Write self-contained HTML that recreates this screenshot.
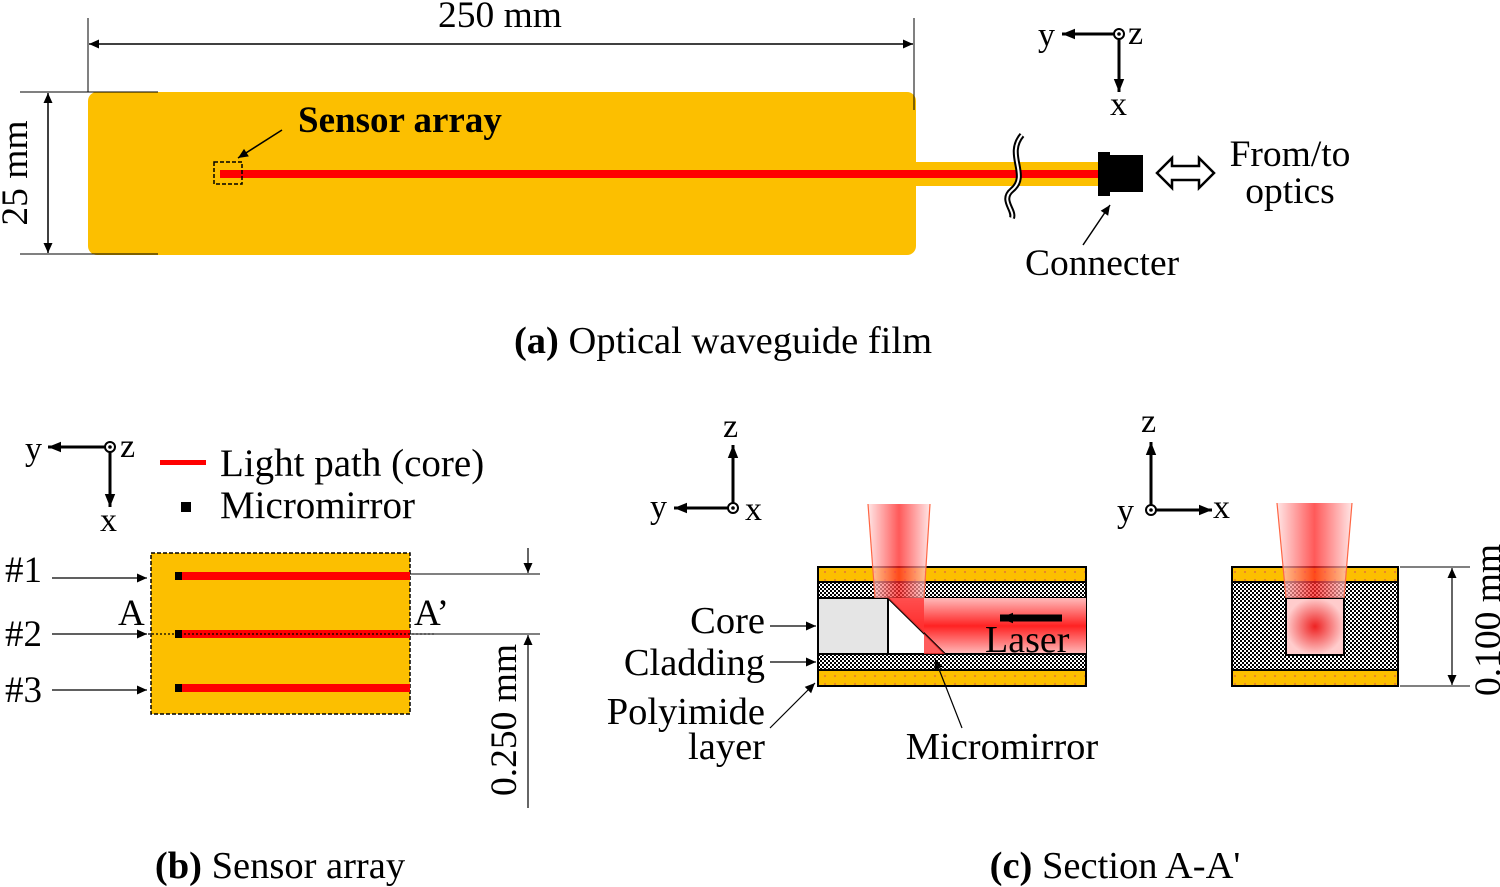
<!DOCTYPE html>
<html><head><meta charset="utf-8"><style>
html,body{margin:0;padding:0;background:#fff;}
svg{display:block;font-family:"Liberation Serif",serif;}
</style></head><body>
<svg width="1500" height="887" viewBox="0 0 1500 887" xmlns="http://www.w3.org/2000/svg">
<defs>
<marker id="ar" viewBox="0 0 10 10" refX="10" refY="5" markerWidth="12" markerHeight="10" orient="auto-start-reverse" markerUnits="userSpaceOnUse"><path d="M0,0.5 L10,5 L0,9.5 z" fill="#000"/></marker>
<marker id="ar2" viewBox="0 0 10 10" refX="10" refY="5" markerWidth="14" markerHeight="13" orient="auto-start-reverse" markerUnits="userSpaceOnUse"><path d="M0,1 L10,5 L0,9 z" fill="#000"/></marker>
<pattern id="chk" width="4" height="4" patternUnits="userSpaceOnUse"><rect width="4" height="4" fill="#fff"/><rect width="2" height="2" fill="#000"/><rect x="2" y="2" width="2" height="2" fill="#000"/></pattern>
<pattern id="dots" width="10" height="8" patternUnits="userSpaceOnUse"><rect width="10" height="8" fill="#fcbf00"/><rect x="4" y="3" width="2" height="2" fill="#e8862a"/></pattern>
<linearGradient id="beam" x1="0" x2="1" y1="0" y2="0"><stop offset="0" stop-color="#fdd"/><stop offset="0.5" stop-color="#f22"/><stop offset="1" stop-color="#fdd"/></linearGradient>
<linearGradient id="beamh" x1="0" x2="0" y1="0" y2="1"><stop offset="0" stop-color="#fbb"/><stop offset="0.5" stop-color="#f22"/><stop offset="1" stop-color="#fbb"/></linearGradient>
<radialGradient id="spot"><stop offset="0" stop-color="#e22"/><stop offset="1" stop-color="#fcc"/></radialGradient>
</defs>

<!-- Panel a -->
<rect x="88" y="92" width="828" height="163" rx="9" fill="#fcbf00"/>
<rect x="914" y="162" width="184" height="24" fill="#fcbf00"/>
<rect x="220" y="170" width="878" height="8" fill="#f00"/>
<path d="M1022,135 C1005,155 1030,175 1012,190 C1000,200 1015,210 1012,218" fill="none" stroke="#000" stroke-width="6"/>
<path d="M1022,135 C1005,155 1030,175 1012,190 C1000,200 1015,210 1012,218" fill="none" stroke="#fff" stroke-width="2"/>
<rect x="1098" y="152" width="12" height="44" fill="#000"/>
<rect x="1108" y="155" width="35" height="37" fill="#000"/>
<path d="M1157,173 L1172,158 L1172,166 L1199,166 L1199,158 L1214,173 L1199,188 L1199,180 L1172,180 L1172,188 z" fill="#fff" stroke="#000" stroke-width="2.5"/>
<rect x="214" y="162" width="28" height="22" fill="none" stroke="#000" stroke-width="1.5" stroke-dasharray="4,2"/>
<line x1="282" y1="130" x2="238" y2="158" stroke="#000" stroke-width="1.5" marker-end="url(#ar)"/>
<text x="298" y="132" font-size="37" font-weight="bold">Sensor array</text>
<line x1="1083" y1="245" x2="1110" y2="205" stroke="#000" stroke-width="1.5" marker-end="url(#ar)"/>
<text x="1025" y="275" font-size="37.5">Connecter</text>
<text x="1290" y="166" font-size="37.5" text-anchor="middle">From/to</text>
<text x="1290" y="203" font-size="37.5" text-anchor="middle">optics</text>
<!-- dims a -->
<line x1="88" y1="18" x2="88" y2="92" stroke="#000" stroke-width="1"/>
<line x1="914" y1="18" x2="914" y2="110" stroke="#000" stroke-width="1"/>
<line x1="89" y1="44" x2="913" y2="44" stroke="#000" stroke-width="1.5" marker-start="url(#ar)" marker-end="url(#ar)"/>
<text x="500" y="27" font-size="37.5" text-anchor="middle">250 mm</text>
<line x1="20" y1="92" x2="158" y2="92" stroke="#000" stroke-width="1"/>
<line x1="20" y1="254" x2="158" y2="254" stroke="#000" stroke-width="1"/>
<line x1="48" y1="93" x2="48" y2="253" stroke="#000" stroke-width="1.5" marker-start="url(#ar)" marker-end="url(#ar)"/>
<text transform="translate(27,173) rotate(-90)" font-size="37.5" text-anchor="middle">25 mm</text>
<!-- axes a -->
<line x1="1119" y1="34" x2="1062" y2="34" stroke="#000" stroke-width="3" marker-end="url(#ar2)"/>
<line x1="1119" y1="34" x2="1119" y2="92" stroke="#000" stroke-width="3" marker-end="url(#ar2)"/>
<circle cx="1119" cy="34" r="5" fill="#fff" stroke="#000" stroke-width="2"/><circle cx="1119" cy="34" r="1.8" fill="#000"/>
<text x="1038" y="46" font-size="34">y</text><text x="1128" y="44" font-size="34">z</text><text x="1110" y="115" font-size="34">x</text>
<text x="723" y="353" font-size="38.5" text-anchor="middle"><tspan font-weight="bold">(a)</tspan> Optical waveguide film</text>

<!-- Panel b -->
<line x1="110" y1="447" x2="48" y2="447" stroke="#000" stroke-width="3" marker-end="url(#ar2)"/>
<line x1="110" y1="447" x2="110" y2="507" stroke="#000" stroke-width="3" marker-end="url(#ar2)"/>
<circle cx="110" cy="447" r="5" fill="#fff" stroke="#000" stroke-width="2"/><circle cx="110" cy="447" r="1.8" fill="#000"/>
<text x="25" y="460" font-size="34">y</text><text x="120" y="457" font-size="34">z</text><text x="100" y="531" font-size="34">x</text>
<rect x="160" y="460" width="46" height="5" fill="#f00"/>
<rect x="181" y="502" width="10" height="10" fill="#000"/>
<text x="220" y="476" font-size="39">Light path (core)</text>
<text x="220" y="518" font-size="39">Micromirror</text>
<rect x="151" y="553" width="259" height="161" fill="#fcbf00" stroke="#000" stroke-width="1.5" stroke-dasharray="4,2"/>
<rect x="175" y="572" width="235" height="8" fill="#f00"/><rect x="175" y="572" width="7" height="8" fill="#000"/>
<rect x="175" y="630" width="235" height="8" fill="#f00"/><rect x="175" y="630" width="7" height="8" fill="#000"/>
<rect x="175" y="684" width="235" height="8" fill="#f00"/><rect x="175" y="684" width="7" height="8" fill="#000"/>
<line x1="140" y1="634" x2="435" y2="634" stroke="#000" stroke-width="1.2" stroke-dasharray="2,2"/>
<line x1="52" y1="578" x2="147" y2="578" stroke="#000" stroke-width="1.2" marker-end="url(#ar)"/>
<line x1="52" y1="634" x2="147" y2="634" stroke="#000" stroke-width="1.2" marker-end="url(#ar)"/>
<line x1="52" y1="690" x2="147" y2="690" stroke="#000" stroke-width="1.2" marker-end="url(#ar)"/>
<text x="5" y="582" font-size="37">#1</text><text x="5" y="646" font-size="37">#2</text><text x="5" y="702" font-size="37">#3</text>
<text x="118" y="625" font-size="37">A</text><text x="414" y="625" font-size="37">A’</text>
<line x1="410" y1="574" x2="540" y2="574" stroke="#000" stroke-width="1"/>
<line x1="410" y1="634" x2="540" y2="634" stroke="#000" stroke-width="1"/>
<line x1="528" y1="548" x2="528" y2="573" stroke="#000" stroke-width="1.2" marker-end="url(#ar)"/>
<line x1="528" y1="808" x2="528" y2="635" stroke="#000" stroke-width="1.2" marker-end="url(#ar)"/>
<text transform="translate(516,720) rotate(-90)" font-size="37.5" text-anchor="middle">0.250 mm</text>
<text x="280" y="878" font-size="38.5" text-anchor="middle"><tspan font-weight="bold">(b)</tspan> Sensor array</text>

<!-- Panel c axes -->
<line x1="733" y1="508" x2="733" y2="445" stroke="#000" stroke-width="3" marker-end="url(#ar2)"/>
<line x1="733" y1="508" x2="674" y2="508" stroke="#000" stroke-width="3" marker-end="url(#ar2)"/>
<circle cx="733" cy="508" r="5" fill="#fff" stroke="#000" stroke-width="2"/><circle cx="733" cy="508" r="1.8" fill="#000"/>
<text x="723" y="437" font-size="34">z</text><text x="650" y="518" font-size="34">y</text><text x="745" y="520" font-size="34">x</text>
<line x1="1151" y1="510" x2="1151" y2="442" stroke="#000" stroke-width="3" marker-end="url(#ar2)"/>
<line x1="1151" y1="510" x2="1212" y2="510" stroke="#000" stroke-width="3" marker-end="url(#ar2)"/>
<circle cx="1151" cy="510" r="5" fill="#fff" stroke="#000" stroke-width="2"/><circle cx="1151" cy="510" r="1.8" fill="#000"/>
<text x="1141" y="432" font-size="34">z</text><text x="1117" y="522" font-size="34">y</text><text x="1213" y="518" font-size="34">x</text>

<!-- Panel c left cross-section -->
<rect x="818" y="567" width="268" height="15" fill="url(#dots)" stroke="#000" stroke-width="2"/>
<rect x="818" y="582" width="268" height="16" fill="url(#chk)" stroke="#000" stroke-width="2"/>
<rect x="818" y="598" width="268" height="56" fill="#e5e5e5" stroke="#000" stroke-width="2"/>
<rect x="888" y="598" width="198" height="56" fill="url(#beamh)"/>
<path d="M888,598 L945,654 L888,654 z" fill="#fff" stroke="#000" stroke-width="2"/>
<line x1="888" y1="598" x2="888" y2="654" stroke="#000" stroke-width="2"/>
<rect x="818" y="654" width="268" height="16" fill="url(#chk)" stroke="#000" stroke-width="2"/>
<rect x="818" y="670" width="268" height="16" fill="url(#dots)" stroke="#000" stroke-width="2"/>
<path d="M888,598 L924,598 L924,654 L945,654 z" fill="#f33" opacity="0.8"/>
<path d="M868,504 L930,504 L924,598 L875,598 z" fill="url(#beam)" opacity="0.75"/>
<line x1="868" y1="504" x2="875" y2="598" stroke="#f64" stroke-width="1.2"/>
<line x1="930" y1="504" x2="924" y2="598" stroke="#f64" stroke-width="1.2"/>
<line x1="1062" y1="618" x2="1000" y2="618" stroke="#000" stroke-width="7" marker-end="url(#ar2)"/>
<text x="985" y="652" font-size="38">Laser</text>
<line x1="770" y1="626" x2="816" y2="626" stroke="#000" stroke-width="1.2" marker-end="url(#ar)"/>
<line x1="770" y1="662" x2="816" y2="662" stroke="#000" stroke-width="1.2" marker-end="url(#ar)"/>
<line x1="770" y1="728" x2="815" y2="683" stroke="#000" stroke-width="1.2" marker-end="url(#ar)"/>
<line x1="962" y1="728" x2="935" y2="659" stroke="#000" stroke-width="1.2" marker-end="url(#ar)"/>
<text x="765" y="633" font-size="38.5" text-anchor="end">Core</text>
<text x="765" y="675" font-size="38.5" text-anchor="end">Cladding</text>
<text x="765" y="724" font-size="38.5" text-anchor="end">Polyimide</text>
<text x="765" y="759" font-size="38.5" text-anchor="end">layer</text>
<text x="1002" y="759" font-size="38.5" text-anchor="middle">Micromirror</text>

<!-- Panel c right cross-section -->
<rect x="1232" y="567" width="166" height="15" fill="url(#dots)" stroke="#000" stroke-width="2"/>
<rect x="1232" y="582" width="166" height="88" fill="url(#chk)" stroke="#000" stroke-width="2"/>
<rect x="1286" y="598" width="58" height="57" fill="url(#spot)" stroke="#000" stroke-width="2"/>
<rect x="1232" y="670" width="166" height="16" fill="url(#dots)" stroke="#000" stroke-width="2"/>
<path d="M1277,503 L1352,503 L1344,598 L1286,598 z" fill="url(#beam)" opacity="0.75"/>
<line x1="1277" y1="503" x2="1286" y2="598" stroke="#f64" stroke-width="1.2"/>
<line x1="1352" y1="503" x2="1344" y2="598" stroke="#f64" stroke-width="1.2"/>
<line x1="1400" y1="567" x2="1470" y2="567" stroke="#000" stroke-width="1"/>
<line x1="1400" y1="686" x2="1470" y2="686" stroke="#000" stroke-width="1"/>
<line x1="1452" y1="568" x2="1452" y2="685" stroke="#000" stroke-width="1.2" marker-start="url(#ar)" marker-end="url(#ar)"/>
<text transform="translate(1500,620) rotate(-90)" font-size="37.5" text-anchor="middle">0.100 mm</text>
<text x="1115" y="878" font-size="38.5" text-anchor="middle"><tspan font-weight="bold">(c)</tspan> Section A-A'</text>
</svg>
</body></html>
